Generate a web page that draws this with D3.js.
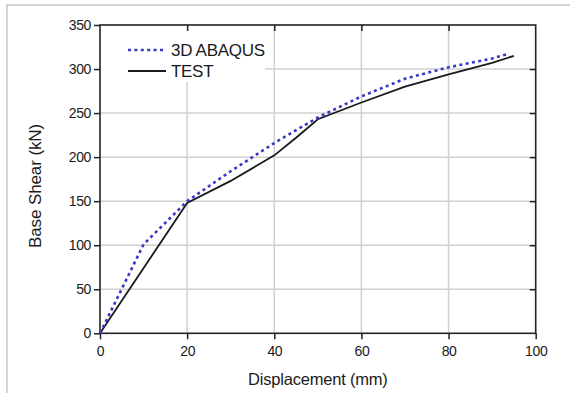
<!DOCTYPE html>
<html>
<head>
<meta charset="utf-8">
<script src="https://cdn.jsdelivr.net/npm/d3@7"></script>
<style>
body { margin: 0; background: #fff; }
text { font-family: "Liberation Sans", Arial, sans-serif; fill: #1a1a1a; }
</style>
</head>
<body>
<div id="chart"></div>
<script>
// displacement (mm) / base shear (kN)
var abaqusX = [0, 10, 20, 25, 30, 40, 50, 60, 70, 80, 90, 93.5];
var abaqusY = [0, 101, 150, 167, 184, 216, 245, 269, 289, 302, 312, 317];
var testX = [0, 20, 30, 40, 45, 50, 60, 70, 80, 90, 95];
var testY = [0, 148, 173, 202, 222, 243, 262, 280, 294, 307, 315];
var xTicks = [0, 20, 40, 60, 80, 100];
var yTicks = [0, 50, 100, 150, 200, 250, 300, 350];
var seriesNames = ["3D ABAQUS", "TEST"];

var W = 570, H = 398;
var pL = 100, pR = 535.7, pT = 25, pB = 333.3;

var svg = d3.select("#chart")
.append("svg")
.attr("width", W)
.attr("height", H);

// outer picture frame (top + left edges)
svg.append("path")
.attr("d", "M7,393 L7,5 L570,5")
.attr("fill", "none")
.attr("stroke", "#c8c8c8")
.attr("stroke-width", 1.5);

var x = d3.scaleLinear().domain([0, 100]).range([pL, pR]);
var y = d3.scaleLinear().domain([0, 350]).range([pB, pT]);

// grid
svg.append("g")
.selectAll("line")
.data(xTicks.slice(1, -1))
.enter()
.append("line")
.attr("x1", function (d) { return x(d); })
.attr("x2", function (d) { return x(d); })
.attr("y1", pT)
.attr("y2", pB)
.attr("stroke", "#d0d0d0")
.attr("stroke-width", 1.5);

svg.append("g")
.selectAll("line")
.data(yTicks.slice(1, -1))
.enter()
.append("line")
.attr("x1", pL)
.attr("x2", pR)
.attr("y1", function (d) { return y(d); })
.attr("y2", function (d) { return y(d); })
.attr("stroke", "#d0d0d0")
.attr("stroke-width", 1.5);

// legend background covers the grid
svg.append("rect")
.attr("x", pL + 1)
.attr("y", pT + 1)
.attr("width", 164)
.attr("height", 56)
.attr("fill", "#fff");

// axes
function styleAxis(g) {
	g.select(".domain").remove();
	g.selectAll("line").attr("stroke", "#222").attr("stroke-width", 1.5);
	g.selectAll("text").attr("font-size", "14px").attr("letter-spacing", "-0.4px").attr("fill", "#1a1a1a");
}

svg.append("g")
.attr("transform", "translate(0," + pB + ")")
.call(d3.axisBottom(x).tickValues(xTicks).tickSize(6).tickPadding(7))
.call(styleAxis);

svg.append("g")
.attr("transform", "translate(" + pL + ",0)")
.call(d3.axisLeft(y).tickValues(yTicks).tickSize(6).tickPadding(3))
.call(styleAxis);

svg.append("g")
.attr("transform", "translate(0," + pT + ")")
.call(d3.axisBottom(x).tickValues(xTicks.slice(1, -1)).tickSize(6).tickFormat(""))
.call(styleAxis);

svg.append("g")
.attr("transform", "translate(" + pR + ",0)")
.call(d3.axisLeft(y).tickValues(yTicks.slice(1, -1)).tickSize(6).tickFormat(""))
.call(styleAxis);

svg.append("rect")
.attr("x", pL)
.attr("y", pT)
.attr("width", pR - pL)
.attr("height", pB - pT)
.attr("fill", "none")
.attr("stroke", "#222")
.attr("stroke-width", 1.6);

// curves
var line = d3.line()
.x(function (d) { return x(d[0]); })
.y(function (d) { return y(d[1]); });

var test = testX.map(function (v, i) { return [v, testY[i]]; });
var abaqus = abaqusX.map(function (v, i) { return [v, abaqusY[i]]; });

svg.append("path")
.datum(test)
.attr("d", line)
.attr("fill", "none")
.attr("stroke", "#1a1a1a")
.attr("stroke-width", 1.8);

svg.append("path")
.datum(abaqus)
.attr("d", line)
.attr("fill", "none")
.attr("stroke", "#3838c8")
.attr("stroke-width", 2.6)
.attr("stroke-dasharray", "3,3.4");

// legend
svg.append("line")
.attr("x1", 128).attr("x2", 166).attr("y1", 50).attr("y2", 50)
.attr("stroke", "#3838c8")
.attr("stroke-width", 2.6)
.attr("stroke-dasharray", "3,3.4");
svg.append("line")
.attr("x1", 128).attr("x2", 166).attr("y1", 71).attr("y2", 71)
.attr("stroke", "#1a1a1a")
.attr("stroke-width", 1.8);
svg.append("text")
.attr("x", 171).attr("y", 56)
.attr("font-size", "17px").attr("letter-spacing", "-0.3px")
.text(seriesNames[0]);
svg.append("text")
.attr("x", 171).attr("y", 77)
.attr("font-size", "17px").attr("letter-spacing", "-0.3px")
.text(seriesNames[1]);

// axis titles
svg.append("text")
.attr("x", (pL + pR) / 2)
.attr("y", 385)
.attr("text-anchor", "middle")
.attr("font-size", "16.5px")
.attr("letter-spacing", "-0.2px")
.text("Displacement (mm)");

svg.append("text")
.attr("transform", "translate(41,186) rotate(-90)")
.attr("text-anchor", "middle")
.attr("font-size", "17px")
.attr("letter-spacing", "-0.1px")
.text("Base Shear (kN)");
</script>
</body>
</html>
